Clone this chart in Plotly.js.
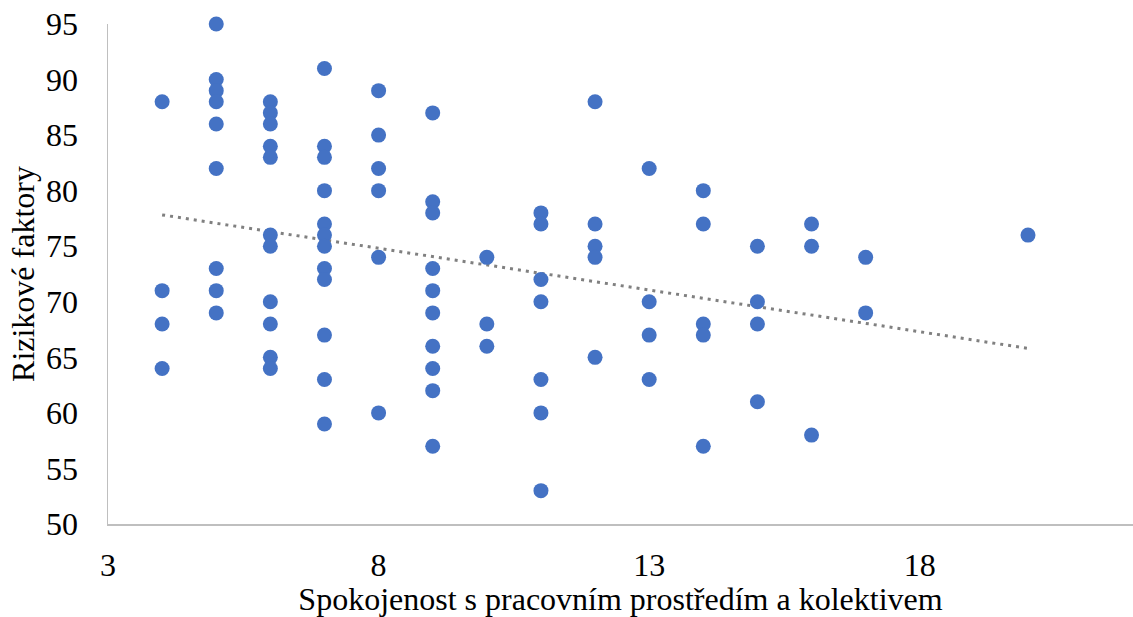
<!DOCTYPE html>
<html><head><meta charset="utf-8">
<script src="https://cdn.plot.ly/plotly-3.0.1.min.js"></script>
<style>html,body{margin:0;padding:0;background:#fff}#chart{width:1133px;height:617px}</style>
</head><body><div id="chart"></div>
<script>
const satisfaction = [
  4,4,4,4,
  5,5,5,5,5,5,5,5,5,
  6,6,6,6,6,6,6,6,6,6,6,
  7,7,7,7,7,7,7,7,7,7,7,7,
  8,8,8,8,8,8,
  9,9,9,9,9,9,9,9,9,9,
  10,10,10,
  11,11,11,11,11,11,11,
  12,12,12,12,12,
  13,13,13,13,
  14,14,14,14,14,
  15,15,15,15,
  16,16,16,
  17,17,
  20
];
const riskFactors = [
  88,71,68,64,
  95,90,89,88,86,82,73,71,69,
  88,87,86,84,83,76,75,70,68,65,64,
  91,84,83,80,77,76,75,73,72,67,63,59,
  89,85,82,80,74,60,
  87,79,78,73,71,69,66,64,62,57,
  74,68,66,
  78,77,72,70,63,60,53,
  88,77,75,74,65,
  82,70,67,63,
  80,77,68,67,57,
  75,70,68,61,
  77,75,58,
  74,69,
  76
];
const xTicks = [3, 8, 13, 18];
const yTicks = [50, 55, 60, 65, 70, 75, 80, 85, 90, 95];

// linear trendline from the data (least squares)
const n = satisfaction.length;
const mx = satisfaction.reduce((a,b)=>a+b,0)/n;
const my = riskFactors.reduce((a,b)=>a+b,0)/n;
let sxy=0, sxx=0;
for (let i=0;i<n;i++){ sxy += (satisfaction[i]-mx)*(riskFactors[i]-my); sxx += (satisfaction[i]-mx)**2; }
const slope = sxy/sxx, intercept = my - slope*mx;
const xMin = Math.min(...satisfaction), xMax = Math.max(...satisfaction);
const trendX = [xMin, xMax];
const trendY = trendX.map(x => intercept + slope*x);

const font = '"Liberation Serif", "Times New Roman", serif';
const data = [
  {x: trendX, y: trendY, mode: 'lines', type: 'scatter',
   line: {color: '#808080', width: 3, dash: '3px,5px'}, hoverinfo: 'skip', cliponaxis: false},
  {x: satisfaction, y: riskFactors, mode: 'markers', type: 'scatter', cliponaxis: false,
   marker: {color: '#4472C4', size: 15}}
];
const layout = {
  width: 1133, height: 617,
  margin: {l: 108, r: 0, t: 24, b: 93},
  paper_bgcolor: '#fff', plot_bgcolor: '#fff',
  showlegend: false,
  font: {family: font, color: '#000', size: 32},
  xaxis: {
    range: [3, 21.94], tickvals: xTicks, ticktext: xTicks.map(String),
    showgrid: false, zeroline: false, showline: true, linecolor: '#BFBFBF', linewidth: 1.5,
    ticks: '', ticklabelstandoff: 12, tickfont: {size: 32, family: font, color: '#000'},
    title: {text: 'Spokojenost s pracovním prostředím a kolektivem', font: {size: 32, family: font, color: '#000'}, standoff: 0}
  },
  yaxis: {
    range: [50, 95], tickvals: yTicks, ticktext: yTicks.map(String),
    showgrid: false, zeroline: false, showline: true, linecolor: '#BFBFBF', linewidth: 1.5,
    ticks: '', ticklabelstandoff: 22, tickfont: {size: 32, family: font, color: '#000'},
    title: {text: 'Rizikové faktory', font: {size: 32, family: font, color: '#000'}, standoff: 2}
  }
};
Plotly.newPlot('chart', data, layout, {staticPlot: true, displayModeBar: false});
</script></body></html>
